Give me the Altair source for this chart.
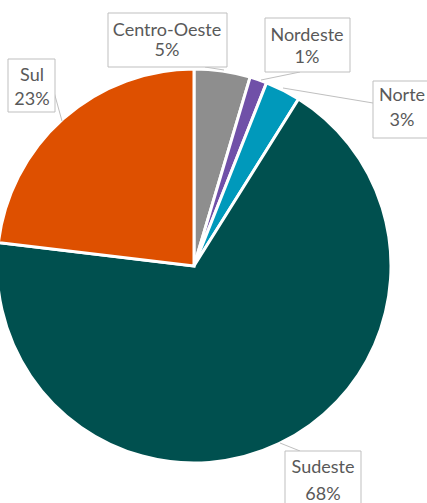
import altair as alt
import pandas as pd

regions = ["Centro-Oeste", "Nordeste", "Norte", "Sudeste", "Sul"]
values = [4.6, 1.4, 2.9, 68.0, 23.1]
pct_labels = ["5%", "1%", "3%", "68%", "23%"]
colors = ["#8E8E8E", "#7050A8", "#0099BB", "#00504F", "#DE5000"]

# layout of callout boxes (pixels): left, right, top, bottom
box_left = [108, 265, 373, 285, 8]
box_right = [227, 350, 432, 361, 55]
box_top = [13, 18, 81, 451, 59]
box_bottom = [67, 72, 138, 506, 112]
text_x = [167, 307, 402, 323, 32]
name_y = [31, 36, 96, 468, 76]
pct_y = [51, 58, 121, 495, 100]
# leader line endpoints
lead_x1 = [205, 300, 373, 300, 54]
lead_y1 = [67, 72, 103, 451, 92]
lead_x2 = [224, 261, 283, 280, 62]
lead_y2 = [70, 80, 88, 443, 121]

df = pd.DataFrame({
    "region": regions,
    "value": values,
    "order": list(range(len(regions))),
    "pct": pct_labels,
    "bl": box_left, "br": box_right, "bt": box_top, "bb": box_bottom,
    "tx": text_x, "ny": name_y, "py": pct_y,
    "lx1": lead_x1, "ly1": lead_y1, "lx2": lead_x2, "ly2": lead_y2,
})

base = alt.Chart(df)

pie = base.mark_arc(radius=197, stroke="white", strokeWidth=3).encode(
    theta=alt.Theta("value:Q", stack=True),
    color=alt.Color("region:N", scale=alt.Scale(domain=regions, range=colors), legend=None),
    order=alt.Order("order:Q"),
    x=alt.value(194),
    y=alt.value(266),
)

leaders = base.mark_rule(color="#BFBFBF", strokeWidth=1).encode(
    x=alt.X("lx1:Q", scale=None, axis=None),
    y=alt.Y("ly1:Q", scale=None, axis=None),
    x2="lx2:Q",
    y2="ly2:Q",
)

boxes = base.mark_rect(fill="white", stroke="#BFBFBF", strokeWidth=1).encode(
    x=alt.X("bl:Q", scale=None, axis=None),
    x2="br:Q",
    y=alt.Y("bt:Q", scale=None, axis=None),
    y2="bb:Q",
)

text_style = dict(font="Lato", fontSize=18, color="#595959", align="center", baseline="middle")

names = base.mark_text(**text_style).encode(
    x=alt.X("tx:Q", scale=None, axis=None),
    y=alt.Y("ny:Q", scale=None, axis=None),
    text="region:N",
)

pcts = base.mark_text(**text_style).encode(
    x=alt.X("tx:Q", scale=None, axis=None),
    y=alt.Y("py:Q", scale=None, axis=None),
    text="pct:N",
)

chart = alt.layer(pie, leaders, boxes, names, pcts).properties(
    width=427, height=503, autosize=alt.AutoSizeParams(type="none"), padding=0,
    background="white",
).configure_view(stroke=None)

chart.save("out.html", embed_options={"renderer": "svg", "actions": False})
